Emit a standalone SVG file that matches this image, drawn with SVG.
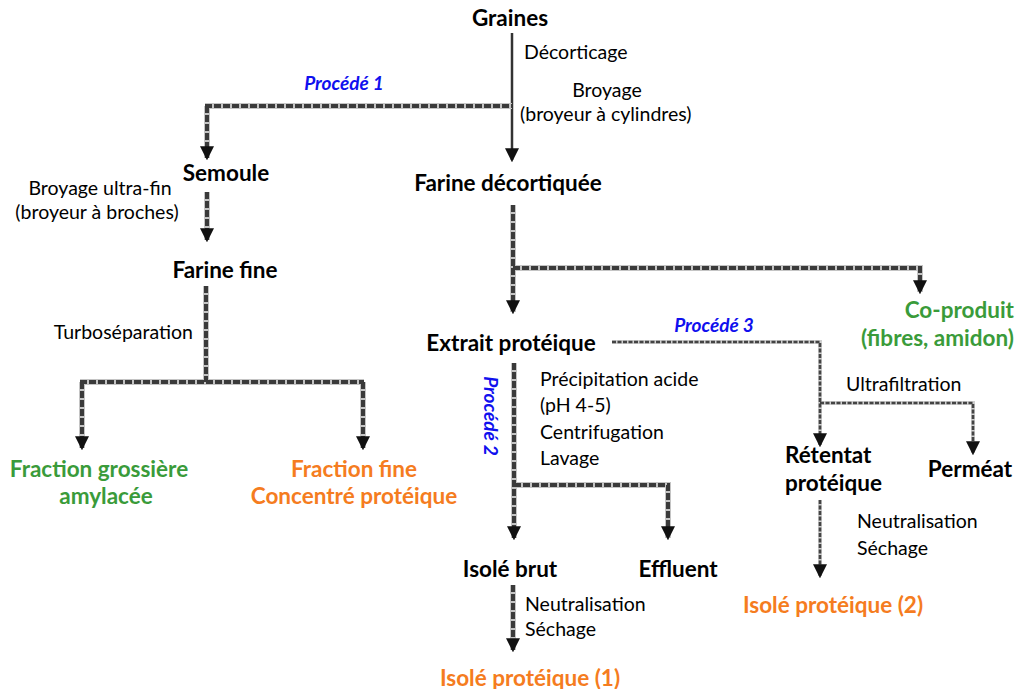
<svg xmlns="http://www.w3.org/2000/svg" width="1017" height="689" viewBox="0 0 1017 689">
<defs>
<marker id="ah" markerUnits="userSpaceOnUse" markerWidth="14" markerHeight="14" refX="10" refY="6" orient="auto" viewBox="0 0 12 12">
<path d="M0,0 L12,6 L0,12 z" fill="#111"/>
</marker>
<style>
text{font-family:Lato,"Open Sans","Liberation Sans",sans-serif;}
.n{font-size:22.5px;font-weight:bold;fill:#000;}
.g{font-size:22.5px;font-weight:bold;fill:#3a9b3a;}
.o{font-size:22.5px;font-weight:bold;fill:#f57c20;}
.l{font-size:19.5px;fill:#000;}
.p{font-size:19px;font-weight:bold;font-style:italic;fill:#1010ee;}
.u{fill:none;stroke:#c4c4c4;stroke-width:6;}
.d{fill:none;stroke:#3a3a3a;stroke-width:4;stroke-dasharray:7 2;}
.u3{fill:none;stroke:#cfcfcf;stroke-width:4;}
.d3{fill:none;stroke:#444;stroke-width:2.6;stroke-dasharray:4 1.5;}
.s{fill:none;stroke:#333;stroke-width:2.5;}
</style>
</defs>
<g id="connectors">
<line class="s" x1="512" y1="33" x2="512" y2="160" marker-end="url(#ah)"/>
<path class="u" d="M205,106 H512 M207,106 V158"/>
<path class="d" d="M205,106 H512"/>
<path class="d" d="M207,106 V158" marker-end="url(#ah)"/>
<path class="u" d="M207,192 V240"/>
<path class="d" d="M207,192 V240" marker-end="url(#ah)"/>
<path class="u" d="M206,286 V382 M80,382 H364 M82,382 V448 M363,382 V448"/>
<path class="d" d="M206,286 V382 M80,382 H364"/>
<path class="d" d="M82,382 V448" marker-end="url(#ah)"/>
<path class="d" d="M363,382 V448" marker-end="url(#ah)"/>
<path class="u" d="M513,205 V312 M513,268 H920 V292"/>
<path class="d" d="M513,205 V312" marker-end="url(#ah)"/>
<path class="d" d="M513,268 H920 V292" marker-end="url(#ah)"/>
<path class="u" d="M514,363 V538 M514,485 H668 V538"/>
<path class="d" d="M514,363 V538" marker-end="url(#ah)"/>
<path class="d" d="M514,485 H668 V538" marker-end="url(#ah)"/>
<path class="u" d="M513,585 V650"/>
<path class="d" d="M513,585 V650" marker-end="url(#ah)"/>
<path class="u3" d="M612,342 H820 V445 M820,403 H973 V453"/>
<path class="d3" d="M612,342 H820 V445" marker-end="url(#ah)"/>
<path class="d3" d="M820,403 H973 V453" marker-end="url(#ah)"/>
<path class="u3" d="M820,500 V576"/>
<path class="d3" d="M820,500 V576" marker-end="url(#ah)"/>
</g>
<g id="graines"><text class="n" x="510" y="26" text-anchor="middle">Graines</text></g>
<g id="lbl-decorticage"><text class="l" x="524" y="59">Décorticage</text></g>
<g id="lbl-broyage"><text class="l" x="607" y="97" text-anchor="middle">Broyage</text><text class="l" x="520" y="121">(broyeur à cylindres)</text></g>
<g id="procede1"><text class="p" x="344" y="90" text-anchor="middle">Procédé 1</text></g>
<g id="semoule"><text class="n" x="226" y="181" text-anchor="middle">Semoule</text></g>
<g id="lbl-ultrafin"><text class="l" x="100" y="195" text-anchor="middle">Broyage ultra-fin</text><text class="l" x="97" y="219" text-anchor="middle">(broyeur à broches)</text></g>
<g id="farine-fine"><text class="n" x="225" y="278" text-anchor="middle">Farine fine</text></g>
<g id="lbl-turbo"><text class="l" x="193" y="339" text-anchor="end">Turboséparation</text></g>
<g id="fraction-grossiere"><text class="g" x="99" y="477" text-anchor="middle">Fraction grossière</text><text class="g" x="106" y="504" text-anchor="middle">amylacée</text></g>
<g id="fraction-fine"><text class="o" x="354" y="477" text-anchor="middle">Fraction fine</text><text class="o" x="354" y="504" text-anchor="middle">Concentré protéique</text></g>
<g id="farine-decortiquee"><text class="n" x="508" y="191" text-anchor="middle">Farine décortiquée</text></g>
<g id="coproduit"><text class="g" x="1014" y="318" text-anchor="end">Co-produit</text><text class="g" x="1014" y="346" text-anchor="end">(fibres, amidon)</text></g>
<g id="extrait"><text class="n" x="511" y="351" text-anchor="middle">Extrait protéique</text></g>
<g id="procede3"><text class="p" x="714" y="332" text-anchor="middle">Procédé 3</text></g>
<g id="procede2"><text class="p" transform="translate(484,416) rotate(90)" text-anchor="middle">Procédé 2</text></g>
<g id="lbl-precip"><text class="l" x="540" y="386">Précipitation acide</text><text class="l" x="540" y="412">(pH 4-5)</text><text class="l" x="540" y="439">Centrifugation</text><text class="l" x="540" y="465">Lavage</text></g>
<g id="isole-brut"><text class="n" x="510" y="577" text-anchor="middle">Isolé brut</text></g>
<g id="effluent"><text class="n" x="678" y="577" text-anchor="middle">Effluent</text></g>
<g id="lbl-neutra1"><text class="l" x="525" y="611">Neutralisation</text><text class="l" x="525" y="636">Séchage</text></g>
<g id="isole1"><text class="o" x="530" y="686" text-anchor="middle">Isolé protéique (1)</text></g>
<g id="lbl-ultrafiltration"><text class="l" x="846" y="391">Ultrafiltration</text></g>
<g id="retentat"><text class="n" x="785" y="463">Rétentat</text><text class="n" x="785" y="491">protéique</text></g>
<g id="permeat"><text class="n" x="970" y="477" text-anchor="middle">Perméat</text></g>
<g id="lbl-neutra2"><text class="l" x="857" y="528">Neutralisation</text><text class="l" x="857" y="555">Séchage</text></g>
<g id="isole2"><text class="o" x="833" y="613" text-anchor="middle">Isolé protéique (2)</text></g>
</svg>
